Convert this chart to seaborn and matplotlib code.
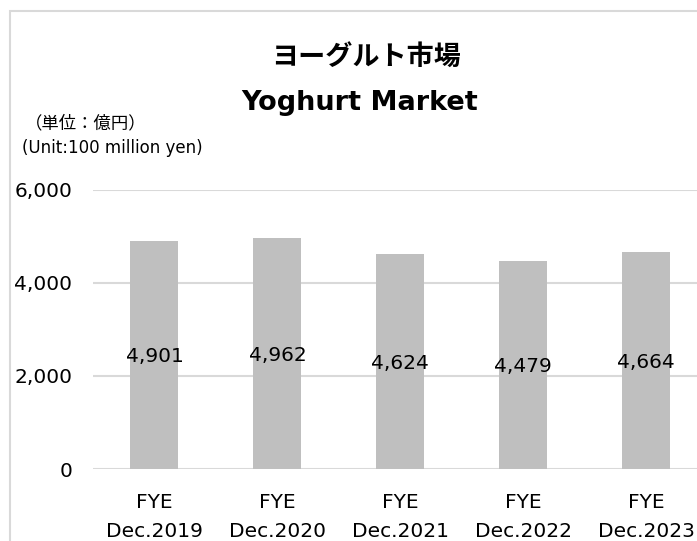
import matplotlib
matplotlib.use("Agg")
import matplotlib.pyplot as plt
import matplotlib.patches as patches
import pandas as pd
import seaborn as sns

# データ
years = ["FYE\nDec.2019", "FYE\nDec.2020", "FYE\nDec.2021", "FYE\nDec.2022", "FYE\nDec.2023"]
market = [4901, 4962, 4624, 4479, 4664]
y_ticks = [0, 2000, 4000, 6000]

sns.set_theme(style="white")
plt.rcParams['font.family'] = ['DejaVu Sans', 'Noto Sans CJK JP']
plt.rcParams['text.color'] = 'black'

df = pd.DataFrame({"year": years, "market": market})

fig = plt.figure(figsize=(6.97, 5.41), dpi=100)
ax = fig.add_axes([0.1334, 0.133, 0.882, 0.516])

sns.barplot(data=df, x="year", y="market", color="#bfbfbf", width=0.39,
            saturation=1, linewidth=0, ax=ax)

ax.set_axisbelow(True)
ax.set_xlim(-0.5, 4.5)
ax.set_ylim(0, 6000)
ax.set_yticks(y_ticks)
ax.set_yticklabels([f"{v:,}" for v in y_ticks])
ax.grid(axis="y", color="#d9d9d9", linewidth=1.5)
for s in ax.spines.values():
    s.set_visible(False)
ax.tick_params(axis="y", length=0, pad=15, labelsize=14.5, labelcolor="black")
ax.tick_params(axis="x", length=0, pad=17, labelsize=14.5, labelcolor="black")
for lbl in ax.get_xticklabels():
    lbl.set_linespacing(1.7)
ax.set_xlabel("")
ax.set_ylabel("")

# 数値ラベル（棒の中央）
for i, v in enumerate(market):
    ax.text(i, v / 2 - 40, f"{v:,}", ha="center", va="center", fontsize=14.5,
            color="black", zorder=3)

# タイトル
fig.text(0.525, 0.895, "ヨーグルト市場", ha="center", va="center", fontsize=19.5,
         fontweight="bold", family=['Noto Sans CJK JP', 'DejaVu Sans'])
fig.text(0.516, 0.81, "Yoghurt Market", ha="center", va="center", fontsize=19.5,
         fontweight="bold")

# 単位
fig.text(0.035, 0.772, "（単位：億円）", ha="left", va="center", fontsize=12.5,
         family=['Noto Sans CJK JP', 'DejaVu Sans'])
fig.text(0.031, 0.726, "(Unit:100 million yen)", ha="left", va="center", fontsize=12)

# 枠線
fig.patches.append(patches.Rectangle((10 / 697, -0.1), 1.2, 1 - 11 / 541 + 0.1,
                                     transform=fig.transFigure, fill=False,
                                     edgecolor="#d9d9d9", linewidth=1.5))

fig.savefig("out.png", dpi=100)
